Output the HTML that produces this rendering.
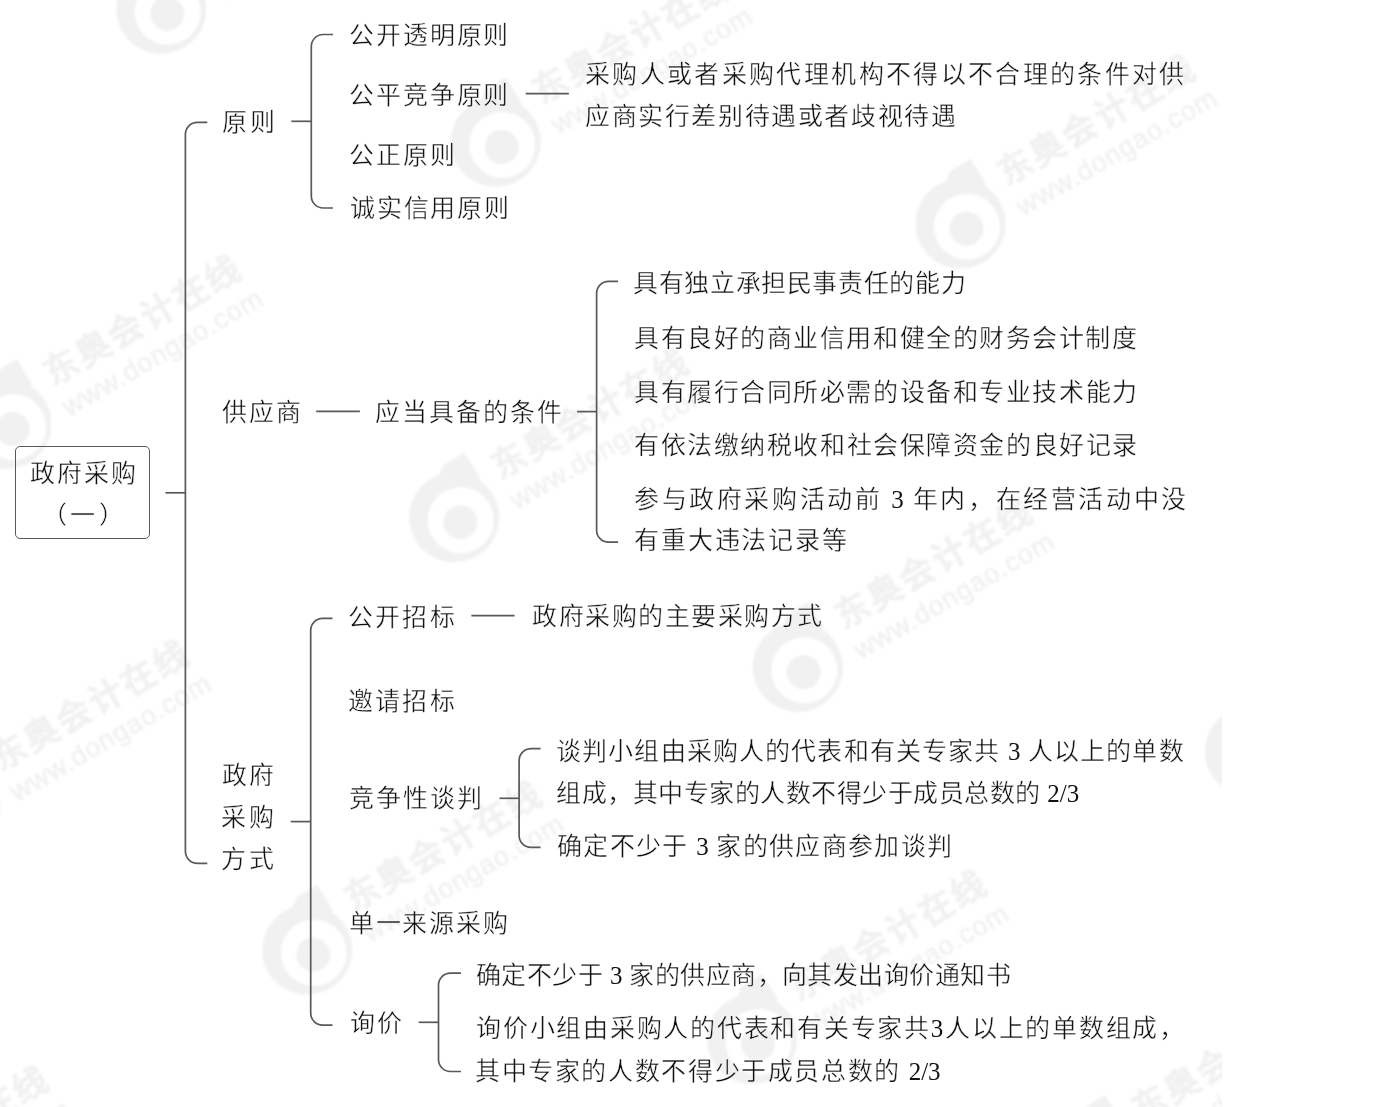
<!DOCTYPE html>
<html lang="zh-CN"><head><meta charset="utf-8"><title>政府采购（一）</title>
<style>
html,body{margin:0;padding:0;background:#fff;}
body{width:1388px;height:1107px;position:relative;overflow:hidden;font-family:"Liberation Serif",serif;color:#111;}
.t{position:absolute;font-size:25px;line-height:30px;white-space:nowrap;text-align:justify;text-align-last:justify;will-change:transform;-webkit-text-stroke:0.4px #fff;}
.box{position:absolute;left:14.7px;top:445.6px;width:133.2px;height:91.6px;border:1.6px solid #58595c;border-radius:5px;}
.d{-webkit-text-stroke:0;}
svg{position:absolute;left:0;top:0;}
</style></head><body>
<svg width="1388" height="1107" viewBox="0 0 1388 1107"><defs><clipPath id="wc"><rect x="0" y="0" width="1221.5" height="1107"/></clipPath><filter id="bl" x="-0.2" y="-0.2" width="1.4" height="1.4"><feGaussianBlur stdDeviation="0.9"/></filter></defs><g clip-path="url(#wc)"><g filter="url(#bl)" fill="#f1f1f1" style="font-family:'Liberation Sans',sans-serif"><g transform="translate(167.2 13.8)"><path fill-rule="evenodd" d="M-51 -5 a45 45 0 1 0 90 0 a45 45 0 1 0 -90 0 Z M-32.5 -2 a33 33 0 1 0 66 0 a33 33 0 1 0 -66 0 Z"/><path d="M-22 -44 L-17 -57 L4 -70 L20 -44 L4 -36 Z"/><circle cx="0" cy="0" r="17"/><g transform="rotate(-30)"><text x="56" y="-16.6" font-size="34" font-weight="bold" stroke="#f1f1f1" stroke-width="0.6" textLength="220" lengthAdjust="spacing">东奥会计在线</text><text x="55" y="17.7" font-size="27" stroke="#f1f1f1" stroke-width="0.6" textLength="226" lengthAdjust="spacing">www.dongao.com</text></g></g><g transform="translate(501.7 146.9)"><path fill-rule="evenodd" d="M-51 -5 a45 45 0 1 0 90 0 a45 45 0 1 0 -90 0 Z M-32.5 -2 a33 33 0 1 0 66 0 a33 33 0 1 0 -66 0 Z"/><path d="M-22 -44 L-17 -57 L4 -70 L20 -44 L4 -36 Z"/><circle cx="0" cy="0" r="17"/><g transform="rotate(-30)"><text x="56" y="-16.6" font-size="34" font-weight="bold" stroke="#f1f1f1" stroke-width="0.6" textLength="220" lengthAdjust="spacing">东奥会计在线</text><text x="55" y="17.7" font-size="27" stroke="#f1f1f1" stroke-width="0.6" textLength="226" lengthAdjust="spacing">www.dongao.com</text></g></g><g transform="translate(12.5 429)"><path fill-rule="evenodd" d="M-51 -5 a45 45 0 1 0 90 0 a45 45 0 1 0 -90 0 Z M-32.5 -2 a33 33 0 1 0 66 0 a33 33 0 1 0 -66 0 Z"/><path d="M-22 -44 L-17 -57 L4 -70 L20 -44 L4 -36 Z"/><circle cx="0" cy="0" r="17"/><g transform="rotate(-30)"><text x="56" y="-16.6" font-size="34" font-weight="bold" stroke="#f1f1f1" stroke-width="0.6" textLength="220" lengthAdjust="spacing">东奥会计在线</text><text x="55" y="17.7" font-size="27" stroke="#f1f1f1" stroke-width="0.6" textLength="226" lengthAdjust="spacing">www.dongao.com</text></g></g><g transform="translate(966.5 228.7)"><path fill-rule="evenodd" d="M-51 -5 a45 45 0 1 0 90 0 a45 45 0 1 0 -90 0 Z M-32.5 -2 a33 33 0 1 0 66 0 a33 33 0 1 0 -66 0 Z"/><path d="M-22 -44 L-17 -57 L4 -70 L20 -44 L4 -36 Z"/><circle cx="0" cy="0" r="17"/><g transform="rotate(-30)"><text x="56" y="-16.6" font-size="34" font-weight="bold" stroke="#f1f1f1" stroke-width="0.6" textLength="220" lengthAdjust="spacing">东奥会计在线</text><text x="55" y="17.7" font-size="27" stroke="#f1f1f1" stroke-width="0.6" textLength="226" lengthAdjust="spacing">www.dongao.com</text></g></g><g transform="translate(460.2 522.2)"><path fill-rule="evenodd" d="M-51 -5 a45 45 0 1 0 90 0 a45 45 0 1 0 -90 0 Z M-32.5 -2 a33 33 0 1 0 66 0 a33 33 0 1 0 -66 0 Z"/><path d="M-22 -44 L-17 -57 L4 -70 L20 -44 L4 -36 Z"/><circle cx="0" cy="0" r="17"/><g transform="rotate(-30)"><text x="56" y="-16.6" font-size="34" font-weight="bold" stroke="#f1f1f1" stroke-width="0.6" textLength="220" lengthAdjust="spacing">东奥会计在线</text><text x="55" y="17.7" font-size="27" stroke="#f1f1f1" stroke-width="0.6" textLength="226" lengthAdjust="spacing">www.dongao.com</text></g></g><g transform="translate(-39.5 814)"><path fill-rule="evenodd" d="M-51 -5 a45 45 0 1 0 90 0 a45 45 0 1 0 -90 0 Z M-32.5 -2 a33 33 0 1 0 66 0 a33 33 0 1 0 -66 0 Z"/><path d="M-22 -44 L-17 -57 L4 -70 L20 -44 L4 -36 Z"/><circle cx="0" cy="0" r="17"/><g transform="rotate(-30)"><text x="56" y="-16.6" font-size="34" font-weight="bold" stroke="#f1f1f1" stroke-width="0.6" textLength="220" lengthAdjust="spacing">东奥会计在线</text><text x="55" y="17.7" font-size="27" stroke="#f1f1f1" stroke-width="0.6" textLength="226" lengthAdjust="spacing">www.dongao.com</text></g></g><g transform="translate(803.8 672.1)"><path fill-rule="evenodd" d="M-51 -5 a45 45 0 1 0 90 0 a45 45 0 1 0 -90 0 Z M-32.5 -2 a33 33 0 1 0 66 0 a33 33 0 1 0 -66 0 Z"/><path d="M-22 -44 L-17 -57 L4 -70 L20 -44 L4 -36 Z"/><circle cx="0" cy="0" r="17"/><g transform="rotate(-30)"><text x="56" y="-16.6" font-size="34" font-weight="bold" stroke="#f1f1f1" stroke-width="0.6" textLength="220" lengthAdjust="spacing">东奥会计在线</text><text x="55" y="17.7" font-size="27" stroke="#f1f1f1" stroke-width="0.6" textLength="226" lengthAdjust="spacing">www.dongao.com</text></g></g><g transform="translate(313.3 954.7)"><path fill-rule="evenodd" d="M-51 -5 a45 45 0 1 0 90 0 a45 45 0 1 0 -90 0 Z M-32.5 -2 a33 33 0 1 0 66 0 a33 33 0 1 0 -66 0 Z"/><path d="M-22 -44 L-17 -57 L4 -70 L20 -44 L4 -36 Z"/><circle cx="0" cy="0" r="17"/><g transform="rotate(-30)"><text x="56" y="-16.6" font-size="34" font-weight="bold" stroke="#f1f1f1" stroke-width="0.6" textLength="220" lengthAdjust="spacing">东奥会计在线</text><text x="55" y="17.7" font-size="27" stroke="#f1f1f1" stroke-width="0.6" textLength="226" lengthAdjust="spacing">www.dongao.com</text></g></g><g transform="translate(-180 1240)"><path fill-rule="evenodd" d="M-51 -5 a45 45 0 1 0 90 0 a45 45 0 1 0 -90 0 Z M-32.5 -2 a33 33 0 1 0 66 0 a33 33 0 1 0 -66 0 Z"/><path d="M-22 -44 L-17 -57 L4 -70 L20 -44 L4 -36 Z"/><circle cx="0" cy="0" r="17"/><g transform="rotate(-30)"><text x="56" y="-16.6" font-size="34" font-weight="bold" stroke="#f1f1f1" stroke-width="0.6" textLength="220" lengthAdjust="spacing">东奥会计在线</text><text x="55" y="17.7" font-size="27" stroke="#f1f1f1" stroke-width="0.6" textLength="226" lengthAdjust="spacing">www.dongao.com</text></g></g><g transform="translate(758 1044)"><path fill-rule="evenodd" d="M-51 -5 a45 45 0 1 0 90 0 a45 45 0 1 0 -90 0 Z M-32.5 -2 a33 33 0 1 0 66 0 a33 33 0 1 0 -66 0 Z"/><path d="M-22 -44 L-17 -57 L4 -70 L20 -44 L4 -36 Z"/><circle cx="0" cy="0" r="17"/><g transform="rotate(-30)"><text x="56" y="-16.6" font-size="34" font-weight="bold" stroke="#f1f1f1" stroke-width="0.6" textLength="220" lengthAdjust="spacing">东奥会计在线</text><text x="55" y="17.7" font-size="27" stroke="#f1f1f1" stroke-width="0.6" textLength="226" lengthAdjust="spacing">www.dongao.com</text></g></g><g transform="translate(1101 1165)"><path fill-rule="evenodd" d="M-51 -5 a45 45 0 1 0 90 0 a45 45 0 1 0 -90 0 Z M-32.5 -2 a33 33 0 1 0 66 0 a33 33 0 1 0 -66 0 Z"/><path d="M-22 -44 L-17 -57 L4 -70 L20 -44 L4 -36 Z"/><circle cx="0" cy="0" r="17"/><g transform="rotate(-30)"><text x="56" y="-16.6" font-size="34" font-weight="bold" stroke="#f1f1f1" stroke-width="0.6" textLength="220" lengthAdjust="spacing">东奥会计在线</text><text x="55" y="17.7" font-size="27" stroke="#f1f1f1" stroke-width="0.6" textLength="226" lengthAdjust="spacing">www.dongao.com</text></g></g><g transform="translate(1256 756)"><path fill-rule="evenodd" d="M-51 -5 a45 45 0 1 0 90 0 a45 45 0 1 0 -90 0 Z M-32.5 -2 a33 33 0 1 0 66 0 a33 33 0 1 0 -66 0 Z"/><path d="M-22 -44 L-17 -57 L4 -70 L20 -44 L4 -36 Z"/><circle cx="0" cy="0" r="17"/><g transform="rotate(-30)"><text x="56" y="-16.6" font-size="34" font-weight="bold" stroke="#f1f1f1" stroke-width="0.6" textLength="220" lengthAdjust="spacing">东奥会计在线</text><text x="55" y="17.7" font-size="27" stroke="#f1f1f1" stroke-width="0.6" textLength="226" lengthAdjust="spacing">www.dongao.com</text></g></g></g></g></svg>
<div class="box"></div>
<svg width="1388" height="1107" viewBox="0 0 1388 1107"><g fill="none" stroke="#58595c" stroke-width="1.7">
<path d="M165.5 492.8 H185.4"/>
<path d="M207.3 122.4 H197.4 A12 12 0 0 0 185.4 134.4 V851.3 A12 12 0 0 0 197.4 863.3 H207.3"/>
<path d="M291.3 121.3 H311.3"/>
<path d="M333 34.5 H323.3 A12 12 0 0 0 311.3 46.5 V196 A12 12 0 0 0 323.3 208 H333"/>
<path d="M525.7 93.6 H568.9"/>
<path d="M316.2 411.4 H359.9"/>
<path d="M577.1 411.6 H596.6"/>
<path d="M618.1 281.4 H608.6 A12 12 0 0 0 596.6 293.4 V530.2 A12 12 0 0 0 608.6 542.2 H618.1"/>
<path d="M290.7 821.6 H310.7"/>
<path d="M332.5 618.4 H322.7 A12 12 0 0 0 310.7 630.4 V1013.2 A12 12 0 0 0 322.7 1025.2 H332.5"/>
<path d="M471.4 615.6 H514.5"/>
<path d="M499.5 798.3 H519.1"/>
<path d="M540.6 748.6 H531.1 A12 12 0 0 0 519.1 760.6 V835.4 A12 12 0 0 0 531.1 847.4 H540.6"/>
<path d="M418.7 1022.3 H438.5"/>
<path d="M461 973.2 H450.5 A12 12 0 0 0 438.5 985.2 V1059.5 A12 12 0 0 0 450.5 1071.5 H461"/>
</g></svg>
<div class="t" style="left:222.4px;top:108.1px;width:53.3px">原则</div>
<div class="t" style="left:349.1px;top:20.8px;width:159.4px">公开透明原则</div>
<div class="t" style="left:349.1px;top:80.5px;width:159.4px">公平竞争原则</div>
<div class="t" style="left:349.1px;top:140.7px;width:106.4px">公正原则</div>
<div class="t" style="left:350.0px;top:193.9px;width:158.8px">诚实信用原则</div>
<div class="t" style="left:585.1px;top:60.3px;width:599.4px">采购人或者采购代理机构不得以不合理的条件对供</div>
<div class="t" style="left:585.1px;top:101.8px;width:370.8px">应商实行差别待遇或者歧视待遇</div>
<div class="t" style="left:222.0px;top:398.1px;width:79.2px">供应商</div>
<div class="t" style="left:375.4px;top:397.7px;width:186.5px">应当具备的条件</div>
<div class="t" style="left:633.4px;top:268.5px;width:332.5px">具有独立承担民事责任的能力</div>
<div class="t" style="left:634.3px;top:323.8px;width:503.0px">具有良好的商业信用和健全的财务会计制度</div>
<div class="t" style="left:634.3px;top:377.6px;width:503.1px">具有履行合同所必需的设备和专业技术能力</div>
<div class="t" style="left:634.2px;top:430.9px;width:503.3px">有依法缴纳税收和社会保障资金的良好记录</div>
<div class="t" style="left:633.8px;top:484.7px;width:552.2px">参与政府采购活动前 <span class="d">3</span> 年内，在经营活动中没</div>
<div class="t" style="left:633.9px;top:526.1px;width:212.9px">有重大违法记录等</div>
<div class="t" style="left:222.0px;top:760.9px;width:52.3px">政府</div>
<div class="t" style="left:221.1px;top:803.1px;width:53.2px">采购</div>
<div class="t" style="left:221.1px;top:844.8px;width:52.7px">方式</div>
<div class="t" style="left:348.4px;top:602.7px;width:106.6px">公开招标</div>
<div class="t" style="left:531.5px;top:601.8px;width:290.1px">政府采购的主要采购方式</div>
<div class="t" style="left:348.1px;top:686.9px;width:106.6px">邀请招标</div>
<div class="t" style="left:349.1px;top:783.9px;width:133.3px">竞争性谈判</div>
<div class="t" style="left:556.3px;top:736.6px;width:627.6px">谈判小组由采购人的代表和有关专家共 <span class="d">3</span> 人以上的单数</div>
<div class="t" style="left:556.3px;top:779.3px;width:523.3px">组成，其中专家的人数不得少于成员总数的 <span class="d">2/3</span></div>
<div class="t" style="left:557.2px;top:832.3px;width:395.2px">确定不少于 <span class="d">3</span> 家的供应商参加谈判</div>
<div class="t" style="left:349.3px;top:908.5px;width:158.5px">单一来源采购</div>
<div class="t" style="left:350.4px;top:1008.8px;width:51.8px">询价</div>
<div class="t" style="left:476.1px;top:961.0px;width:534.7px">确定不少于 <span class="d">3</span> 家的供应商，向其发出询价通知书</div>
<div class="t" style="left:476.1px;top:1014.0px;width:708.1px">询价小组由采购人的代表和有关专家共<span class="d">3</span>人以上的单数组成，</div>
<div class="t" style="left:475.3px;top:1057.2px;width:465.6px">其中专家的人数不得少于成员总数的 <span class="d">2/3</span></div>
<div class="t" style="left:30.2px;top:458.8px;width:105.7px">政府采购</div>
<div class="t" style="left:42.0px;top:501.2px;width:81.9px">（一）</div>
</body></html>
